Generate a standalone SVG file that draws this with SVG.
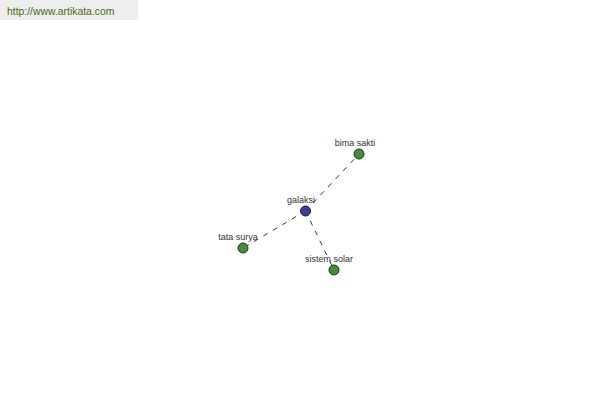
<svg xmlns="http://www.w3.org/2000/svg" width="600" height="400" viewBox="0 0 600 400">
<style>
.lbl{font-family:"Liberation Sans",Arial,sans-serif;font-size:9px;fill:#333;text-anchor:middle}
.edge{stroke:#000;stroke-width:0.8;stroke-dasharray:5,6;fill:none}
.leaf{fill:#4a8a3e;stroke:#1a3a14;stroke-width:1}
.hub{fill:#3f3f99;stroke:#14143a;stroke-width:1}
</style>
<rect width="600" height="400" fill="#fff"/>
<g id="header">
<rect x="0" y="0" width="138" height="20" fill="#eeeeee"/>
<text x="7" y="15" font-family="'Liberation Sans',Arial,sans-serif" font-size="10.4" fill="#4a6a10">http://www.artikata.com</text>
</g>
<g id="connectors">
<line class="edge" x1="305.5" y1="211" x2="359" y2="154"/>
<line class="edge" x1="305.5" y1="211" x2="243" y2="248"/>
<line class="edge" x1="305.5" y1="211" x2="334" y2="270"/>
</g>
<g id="galaksi"><circle class="hub" cx="305.5" cy="211" r="5"/><text class="lbl" x="301" y="203">galaksi</text></g>
<g id="bima-sakti"><circle class="leaf" cx="359" cy="154" r="5"/><text class="lbl" x="355" y="146">bima sakti</text></g>
<g id="tata-surya"><circle class="leaf" cx="243" cy="248" r="5"/><text class="lbl" x="238" y="240">tata surya</text></g>
<g id="sistem-solar"><circle class="leaf" cx="334" cy="270" r="5"/><text class="lbl" x="329" y="262">sistem solar</text></g>
</svg>
